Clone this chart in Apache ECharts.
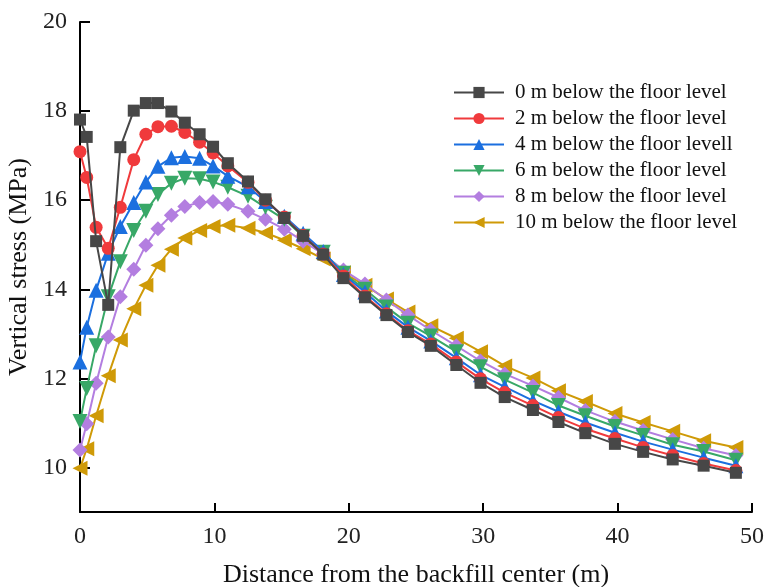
<!DOCTYPE html>
<html>
<head>
<meta charset="utf-8">
<script src="https://cdn.jsdelivr.net/npm/echarts@6/dist/echarts.min.js"></script>
<style>html,body{margin:0;padding:0;background:#fff}#c{width:766px;height:587px}</style>
</head>
<body>
<div id="c"></div>
<script>
const distance = [0, 0.5, 1.2, 2.1, 3.0, 4.0, 4.9, 5.8, 6.8, 7.8, 8.9, 9.9, 11.0, 12.5, 13.8, 15.2, 16.6, 18.1, 19.6, 21.2, 22.8, 24.4, 26.1, 28.0, 29.8, 31.6, 33.7, 35.6, 37.6, 39.8, 41.9, 44.1, 46.4, 48.8];
const seriesNames = ["0 m below the floor level", "2 m below the floor level", "4 m below the floor levell", "6 m below the floor level", "8 m below the floor level", "10 m below the floor level"];
const s0m = [17.81, 17.42, 15.08, 13.65, 17.19, 18.01, 18.18, 18.18, 17.99, 17.74, 17.48, 17.20, 16.83, 16.42, 16.02, 15.60, 15.20, 14.78, 14.25, 13.82, 13.42, 13.04, 12.73, 12.30, 11.90, 11.58, 11.29, 11.02, 10.77, 10.53, 10.35, 10.18, 10.04, 9.88];
const s2m = [17.09, 16.51, 15.39, 14.92, 15.84, 16.91, 17.48, 17.65, 17.66, 17.52, 17.30, 17.06, 16.77, 16.40, 16.00, 15.62, 15.21, 14.79, 14.30, 13.85, 13.45, 13.07, 12.77, 12.37, 11.99, 11.68, 11.39, 11.12, 10.87, 10.65, 10.45, 10.27, 10.09, 9.93];
const s4m = [12.37, 13.15, 13.98, 14.81, 15.41, 15.95, 16.41, 16.76, 16.95, 16.98, 16.94, 16.77, 16.54, 16.30, 15.97, 15.64, 15.26, 14.85, 14.33, 13.94, 13.51, 13.15, 12.84, 12.46, 12.08, 11.81, 11.50, 11.25, 11.01, 10.78, 10.58, 10.40, 10.22, 10.04];
const s6m = [11.03, 11.77, 12.73, 13.83, 14.62, 15.32, 15.75, 16.13, 16.38, 16.49, 16.48, 16.41, 16.29, 16.09, 15.84, 15.57, 15.19, 14.83, 14.36, 14.00, 13.60, 13.24, 12.95, 12.60, 12.26, 11.97, 11.68, 11.39, 11.16, 10.92, 10.72, 10.51, 10.36, 10.16];
const s8m = [10.39, 10.98, 11.89, 12.93, 13.83, 14.45, 14.99, 15.36, 15.66, 15.86, 15.95, 15.97, 15.91, 15.75, 15.57, 15.35, 15.08, 14.79, 14.43, 14.12, 13.76, 13.42, 13.08, 12.73, 12.39, 12.10, 11.83, 11.57, 11.28, 11.03, 10.83, 10.63, 10.43, 10.27];
const s10m = [9.98, 10.42, 11.16, 12.06, 12.86, 13.56, 14.09, 14.54, 14.90, 15.15, 15.32, 15.41, 15.44, 15.37, 15.27, 15.10, 14.91, 14.68, 14.37, 14.09, 13.78, 13.49, 13.18, 12.90, 12.60, 12.28, 12.01, 11.72, 11.48, 11.21, 11.01, 10.81, 10.60, 10.45];
const yTicks = [10, 12, 14, 16, 18, 20];
const xTicks = [0, 10, 20, 30, 40, 50];

const allValues = [s0m, s2m, s4m, s6m, s8m, s10m];
const colors = ["#474747", "#f03a3c", "#1b6fdf", "#38a867", "#b37ee0", "#cf9a07"];
const symbols = ["rect", "circle", "triangle", "triangle", "diamond", "triangle"];
const rotates = [0, 0, 0, 180, 0, 90];
const sizes = [12, 13, 15, 15, 15, 15];

const FONT = "Liberation Serif";
const chart = echarts.init(document.getElementById('c'), null, {renderer: 'canvas'});
chart.setOption({
  backgroundColor: '#fff',
  animation: false,
  grid: {left: 80, right: 14, top: 22, bottom: 75, containLabel: false, outerBoundsMode: 'none'},
  legend: {
    orient: 'vertical', left: 453, top: 82, padding: 0,
    itemWidth: 50, itemHeight: 14, itemGap: 5,
    textStyle: {fontFamily: FONT, fontSize: 21, color: '#111', padding: [0, 0, 0, 6]},
    data: seriesNames
  },
  xAxis: {
    type: 'value', min: 0, max: 50, interval: 10,
    name: 'Distance from the backfill center (m)', nameLocation: 'middle', nameGap: 50,
    nameMoveOverlap: false,
    nameTextStyle: {fontFamily: FONT, fontSize: 26, color: '#111'},
    axisLine: {lineStyle: {color: '#000', width: 2}},
    axisTick: {inside: true, length: 9, lineStyle: {color: '#000', width: 2}, customValues: xTicks},
    axisLabel: {fontFamily: FONT, fontSize: 24, color: '#222', margin: 13, customValues: xTicks},
    splitLine: {show: false}
  },
  yAxis: {
    type: 'value', min: 9, max: 20,
    name: 'Vertical stress (MPa)', nameLocation: 'middle', nameGap: 48, nameRotate: 90,
    nameMoveOverlap: false,
    nameTextStyle: {fontFamily: FONT, fontSize: 26, color: '#111'},
    axisLine: {show: true, lineStyle: {color: '#000', width: 2}},
    axisTick: {show: true, inside: true, length: 10, lineStyle: {color: '#000', width: 2}, customValues: yTicks},
    axisLabel: {fontFamily: FONT, fontSize: 24, color: '#222', margin: 13, customValues: yTicks},
    splitLine: {show: false}
  },
  series: allValues.map((vals, i) => ({
    name: seriesNames[i],
    type: 'line',
    data: distance.map((d, j) => [d, vals[j]]),
    symbol: symbols[i],
    symbolRotate: rotates[i],
    symbolSize: sizes[i],
    showAllSymbol: true,
    lineStyle: {color: colors[i], width: 2},
    itemStyle: {color: colors[i]},
    z: 2 + (5 - i)
  }))
});
</script>
</body>
</html>
